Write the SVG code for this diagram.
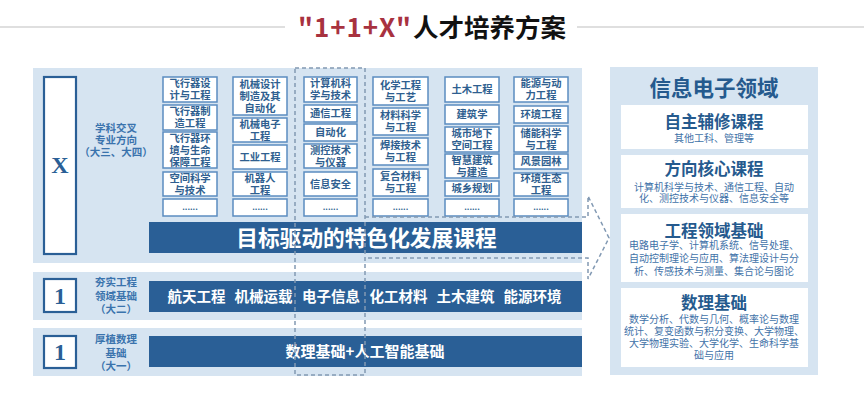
<svg xmlns="http://www.w3.org/2000/svg" width="864" height="402" viewBox="0 0 864 402">
<style>
text{font-family:"Noto Sans CJK SC","Noto Sans",sans-serif;font-weight:bold}
.panel{fill:#d6e4f1}
.bar{fill:#2a5f96}
.bartxt{fill:#ffffff;text-anchor:middle}
.sb{fill:#ffffff;stroke:#5b8cc0;stroke-width:1.5}
.st{fill:#2f5f90;font-size:10.3px;text-anchor:middle}
.dots{fill:#2f5f90;font-size:8px;text-anchor:middle}
.yb{fill:#ffffff;stroke:#2a5f96;stroke-width:2.2}
.yt{font-family:"Liberation Serif",serif;fill:#2a5f96;font-size:24px;text-anchor:middle}
.lbl{fill:#3a73ad;font-size:10.5px;text-anchor:middle}
.dash{fill:none;stroke:#8299b3;stroke-width:1.5;stroke-dasharray:4 3}
.wb{fill:#ffffff}
.h{fill:#255a8e;text-anchor:middle;font-size:16.5px}
.big{fill:#255a8e;text-anchor:middle;font-size:21.5px}
.bt{fill:#3f72a8;font-size:10px;font-weight:normal}
</style>
<g id="title">
<line x1="0" y1="27" x2="285" y2="27" stroke="#d4d4d4" stroke-width="1.5"/>
<line x1="577" y1="27" x2="864" y2="27" stroke="#d4d4d4" stroke-width="1.5"/>
<text x="298" y="37" font-size="26" fill="#a8323f" textLength="113" lengthAdjust="spacing">"1+1+X"</text>
<text x="413" y="37" font-size="25.5" fill="#111111">人才培养方案</text>
</g>
<g id="panels">
<rect class="panel" x="33" y="68" width="549" height="195"/>
<rect class="panel" x="33" y="272" width="549" height="48"/>
<rect class="panel" x="33" y="328" width="549" height="48"/>
<rect class="panel" x="610" y="67" width="208" height="308"/>
</g>
<g id="level-x">
<rect class="yb" x="44" y="77" width="32" height="177"/>
<text class="yt" x="60" y="173">X</text>
<text class="lbl" x="116" y="132">学科交叉<tspan x="116" dy="12">专业方向</tspan><tspan x="116" dy="12">（大三、大四）</tspan></text>
</g>
<g id="col-aero">
<rect class="sb" x="163" y="77" width="54" height="25"/><text class="st" x="190" y="87.2">飞行器设<tspan x="190" dy="12">计与工程</tspan></text>
<rect class="sb" x="163" y="105" width="54" height="25"/><text class="st" x="190" y="115.2">飞行器制<tspan x="190" dy="12">造工程</tspan></text>
<rect class="sb" x="163" y="132" width="54" height="36"/><text class="st" x="190" y="141.7">飞行器环<tspan x="190" dy="12">境与生命</tspan><tspan x="190" dy="12">保障工程</tspan></text>
<rect class="sb" x="163" y="172" width="54" height="24"/><text class="st" x="190" y="181.7">空间科学<tspan x="190" dy="12">与技术</tspan></text>
<rect class="sb" x="163" y="199" width="54" height="17"/><text class="dots" x="190" y="210">......</text>
</g>
<g id="col-mech">
<rect class="sb" x="233" y="77" width="54" height="38"/><text class="st" x="260" y="87.7">机械设计<tspan x="260" dy="12">制造及其</tspan><tspan x="260" dy="12">自动化</tspan></text>
<rect class="sb" x="233" y="118" width="54" height="24"/><text class="st" x="260" y="127.7">机械电子<tspan x="260" dy="12">工程</tspan></text>
<rect class="sb" x="233" y="145" width="54" height="24"/><text class="st" x="260" y="160.7">工业工程</text>
<rect class="sb" x="233" y="172" width="54" height="24"/><text class="st" x="260" y="181.7">机器人<tspan x="260" dy="12">工程</tspan></text>
<rect class="sb" x="233" y="199" width="54" height="17"/><text class="dots" x="260" y="210">......</text>
</g>
<g id="col-info">
<rect class="sb" x="304" y="77" width="53" height="25"/><text class="st" x="330.5" y="87.2">计算机科<tspan x="330.5" dy="12">学与技术</tspan></text>
<rect class="sb" x="304" y="105" width="53" height="17"/><text class="st" x="330.5" y="117.2">通信工程</text>
<rect class="sb" x="304" y="124" width="53" height="17"/><text class="st" x="330.5" y="136.2">自动化</text>
<rect class="sb" x="304" y="144" width="53" height="24"/><text class="st" x="330.5" y="153.7">测控技术<tspan x="330.5" dy="12">与仪器</tspan></text>
<rect class="sb" x="304" y="172" width="53" height="24"/><text class="st" x="330.5" y="187.7">信息安全</text>
<rect class="sb" x="304" y="199" width="53" height="17"/><text class="dots" x="330.5" y="210">......</text>
</g>
<g id="col-chem">
<rect class="sb" x="373" y="77" width="55" height="28"/><text class="st" x="400.5" y="88.7">化学工程<tspan x="400.5" dy="12">与工艺</tspan></text>
<rect class="sb" x="373" y="108" width="55" height="27"/><text class="st" x="400.5" y="119.2">材料科学<tspan x="400.5" dy="12">与工程</tspan></text>
<rect class="sb" x="373" y="138" width="55" height="27"/><text class="st" x="400.5" y="149.2">焊接技术<tspan x="400.5" dy="12">与工程</tspan></text>
<rect class="sb" x="373" y="169" width="55" height="27"/><text class="st" x="400.5" y="180.2">复合材料<tspan x="400.5" dy="12">与工程</tspan></text>
<rect class="sb" x="373" y="199" width="55" height="17"/><text class="dots" x="400.5" y="210">......</text>
</g>
<g id="col-civil">
<rect class="sb" x="445" y="77" width="54" height="25"/><text class="st" x="472" y="93.2">土木工程</text>
<rect class="sb" x="445" y="105" width="54" height="19"/><text class="st" x="472" y="118.2">建筑学</text>
<rect class="sb" x="445" y="127" width="54" height="25"/><text class="st" x="472" y="137.2">城市地下<tspan x="472" dy="12">空间工程</tspan></text>
<rect class="sb" x="445" y="154" width="54" height="24"/><text class="st" x="472" y="163.7">智慧建筑<tspan x="472" dy="12">与建造</tspan></text>
<rect class="sb" x="445" y="181" width="54" height="15"/><text class="st" x="472" y="192.2">城乡规划</text>
<rect class="sb" x="445" y="199" width="54" height="17"/><text class="dots" x="472" y="210">......</text>
</g>
<g id="col-energy">
<rect class="sb" x="514" y="77" width="54" height="25"/><text class="st" x="541" y="87.2">能源与动<tspan x="541" dy="12">力工程</tspan></text>
<rect class="sb" x="514" y="106" width="54" height="17"/><text class="st" x="541" y="118.2">环境工程</text>
<rect class="sb" x="514" y="126" width="54" height="26"/><text class="st" x="541" y="136.7">储能科学<tspan x="541" dy="12">与工程</tspan></text>
<rect class="sb" x="514" y="154" width="54" height="15"/><text class="st" x="541" y="165.2">风景园林</text>
<rect class="sb" x="514" y="173" width="54" height="23"/><text class="st" x="541" y="182.2">环境生态<tspan x="541" dy="12">工程</tspan></text>
<rect class="sb" x="514" y="199" width="54" height="17"/><text class="dots" x="541" y="210">......</text>
</g>
<g id="bar-x">
<rect class="bar" x="149" y="222" width="433" height="31"/>
<text class="bartxt" x="366.5" y="245.5" font-size="21.7">目标驱动的特色化发展课程</text>
</g>
<g id="level-2">
<rect class="yb" x="44" y="279" width="32" height="33"/>
<text class="yt" x="60" y="304">1</text>
<text class="lbl" x="116" y="286">夯实工程<tspan x="116" dy="13.5">领域基础</tspan><tspan x="116" dy="13.5">（大二）</tspan></text>
<rect class="bar" x="149" y="281" width="433" height="31"/>
<text class="bartxt" x="196.5" y="302" font-size="14.5">航天工程</text>
<text class="bartxt" x="263.5" y="302" font-size="14.5">机械运载</text>
<text class="bartxt" x="331" y="302" font-size="14.5">电子信息</text>
<text class="bartxt" x="398.5" y="302" font-size="14.5">化工材料</text>
<text class="bartxt" x="465.5" y="302" font-size="14.5">土木建筑</text>
<text class="bartxt" x="532.5" y="302" font-size="14.5">能源环境</text>
</g>
<g id="level-1">
<rect class="yb" x="44" y="336" width="32" height="32"/>
<text class="yt" x="60" y="360">1</text>
<text class="lbl" x="116" y="343">厚植数理<tspan x="116" dy="13.5">基础</tspan><tspan x="116" dy="13.5">（大一）</tspan></text>
<rect class="bar" x="149" y="336" width="433" height="31"/>
<text class="bartxt" x="365" y="357" font-size="15">数理基础+人工智能基础</text>
</g>
<g id="connectors">
<rect class="dash" x="295" y="68" width="70" height="307"/>
<polyline class="dash" points="365,217 588,217 588,196 609,238 588,279 588,258 365,258"/>
</g>
<g id="right-panel">
<text class="big" x="714" y="96">信息电子领域</text>
<g id="box-minor">
<rect class="wb" x="621" y="105" width="187" height="44"/>
<text class="h" x="714" y="128">自主辅修课程<tspan class="bt" x="714" y="142">其他工科、管理等</tspan></text>
</g>
<g id="box-core">
<rect class="wb" x="621" y="155" width="187" height="53"/>
<text class="h" x="714" y="175">方向核心课程<tspan class="bt" x="714" y="191">计算机科学与技术、通信工程、自动</tspan><tspan class="bt" x="714" y="202">化、测控技术与仪器、信息安全等</tspan></text>
</g>
<g id="box-eng">
<rect class="wb" x="621" y="214" width="187" height="68"/>
<text class="h" x="714" y="237">工程领域基础<tspan class="bt" x="714" y="249">电路电子学、计算机系统、信号处理、</tspan><tspan class="bt" x="714" y="262">自动控制理论与应用、算法理设计与分</tspan><tspan class="bt" x="714" y="275">析、传感技术与测量、集合论与图论</tspan></text>
</g>
<g id="box-math">
<rect class="wb" x="621" y="288" width="187" height="79"/>
<text class="h" x="714" y="309">数理基础<tspan class="bt" x="714" y="323">数学分析、代数与几何、概率论与数理</tspan><tspan class="bt" x="714" y="335">统计、复变函数与积分变换、大学物理、</tspan><tspan class="bt" x="714" y="347">大学物理实验、大学化学、生命科学基</tspan><tspan class="bt" x="714" y="359">础与应用</tspan></text>
</g>
</g>
</svg>
